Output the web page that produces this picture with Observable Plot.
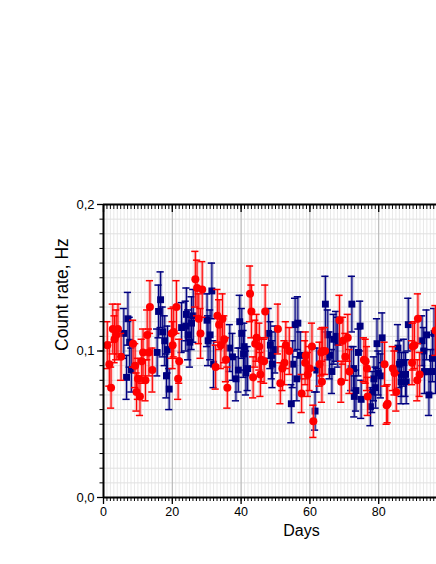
<!DOCTYPE html>
<html><head><meta charset="utf-8">
<script src="https://cdn.jsdelivr.net/npm/d3@7"></script>
<script src="https://cdn.jsdelivr.net/npm/@observablehq/plot@0.6"></script>
<style>html,body{margin:0;padding:0;background:#fff;overflow:hidden}svg{display:block}</style>
</head><body><div id="chart"></div>
<script>
const redDays = [1.1,1.7,2.2,2.7,3.2,3.7,4.2,5.1,8.6,9.2,9.6,10.0,10.6,11.1,11.5,12.2,12.7,13.2,13.5,14.2,
  19.8,20.1,20.4,21.2,21.7,22.0, 26.7,27.2,27.7,28.2,28.7, 32.6,33.1,33.6,34.1,34.6,35.1,35.6,36.0,
  42.6,43.0,43.5,44.1,44.5,45.3,45.6,45.9,46.7,47.0, 50.7,51.4,52.0,52.6,53.0,54.0,
  57.6,58.6,58.8,59.4,59.9,60.6,61.0,62.8,63.3,63.5,63.7,64.4, 68.6,69.1,69.6,70.3,71.0,71.5,
  75.7,76.2,76.6,76.8, 81.7,82.3,82.6,84.1,84.6,85.1, 89.7,89.9,90.4,91.2,91.4,91.9, 96.5];
const redValues = [0.104,0.091,0.075,0.115,0.108,0.111,0.115,0.096,0.105,0.090,0.072,0.081,0.069,0.093,0.099,0.080,0.111,0.099,0.130,0.087,
  0.112,0.104,0.113,0.130,0.081,0.093, 0.149,0.143,0.122,0.112,0.142, 0.089,0.124,0.118,0.104,0.122,0.108,0.094,0.075,
  0.139,0.127,0.082,0.105,0.109,0.103,0.084,0.094,0.093,0.127, 0.115,0.078,0.088,0.092,0.104,0.100,
  0.071,0.092,0.097,0.084,0.088,0.103,0.052,0.091,0.099,0.079,0.100,0.100, 0.121,0.079,0.107,0.096,0.109,0.086,
  0.094,0.093,0.088,0.069, 0.091,0.063,0.064,0.088,0.085,0.072, 0.092,0.103,0.104,0.080,0.122,0.084, 0.114];
const redErrors = [0.016,0.015,0.014,0.017,0.016,0.017,0.017,0.016,0.016,0.015,0.013,0.014,0.013,0.015,0.016,0.014,0.017,0.016,0.018,0.015,
  0.017,0.016,0.017,0.018,0.014,0.015, 0.019,0.019,0.017,0.017,0.019, 0.015,0.018,0.017,0.016,0.017,0.016,0.015,0.014,
  0.019,0.018,0.014,0.016,0.016,0.016,0.015,0.015,0.015,0.018, 0.017,0.014,0.015,0.015,0.016,0.016,
  0.013,0.015,0.016,0.015,0.015,0.016,0.011,0.015,0.016,0.014,0.016,0.016, 0.017,0.014,0.016,0.016,0.016,0.015,
  0.015,0.015,0.015,0.013, 0.015,0.013,0.013,0.015,0.015,0.013, 0.015,0.016,0.016,0.014,0.017,0.015, 0.017];

const navyDays = [5.9,6.7,7.1,7.6,8.1, 15.6,16.0,16.6,17.2,17.8,18.3,18.6,19.1, 22.7,23.9,24.1,24.6,25.1,25.6,26.1,
  30.1,30.4,31.0,31.5,32.0, 36.7,37.5,38.5,39.2,39.6,40.2,40.7,40.9,41.4,41.9, 48.0,48.5,48.9,49.1,49.9,
  54.6,55.0,55.7,56.2,56.5,57.2, 61.5,62.0, 64.5,65.2,65.7,66.4,66.9,67.6,68.1,
  72.0,72.2,72.7,72.9,73.4,74.1,74.6,74.9, 77.6,78.1,78.6,79.1,79.5,79.9,80.6,81.0,
  85.6,86.0,86.5,86.6,87.3,87.8,88.0,88.6, 92.6,93.1,93.3,93.9,94.6,95.1,95.6,96.1,96.5];
const navyValues = [0.112,0.082,0.122,0.106,0.087, 0.099,0.127,0.135,0.113,0.107,0.083,0.101,0.074, 0.116,0.117,0.125,0.111,0.106,0.119,0.124,
  0.121,0.107,0.111,0.141,0.091, 0.102,0.096,0.081,0.087,0.120,0.112,0.098,0.103,0.085,0.088, 0.112,0.104,0.097,0.091,0.101,
  0.064,0.091,0.118,0.081,0.119,0.097, 0.059,0.087, 0.132,0.111,0.097,0.086,0.108,0.110,0.106,
  0.088,0.132,0.088,0.069,0.073,0.099,0.117,0.067, 0.062,0.072,0.081,0.075,0.105,0.085,0.083,0.109,
  0.102,0.091,0.079,0.084,0.092,0.084,0.079,0.118, 0.107,0.100,0.086,0.111,0.070,0.086,0.095,0.112,0.086];
const navyErrors = [0.017,0.015,0.018,0.017,0.015, 0.016,0.018,0.019,0.017,0.017,0.015,0.016,0.014, 0.017,0.017,0.018,0.017,0.017,0.018,0.018,
  0.018,0.017,0.017,0.019,0.016, 0.016,0.016,0.015,0.015,0.018,0.017,0.016,0.016,0.015,0.015, 0.017,0.016,0.016,0.016,0.016,
  0.013,0.016,0.018,0.015,0.018,0.016, 0.013,0.015, 0.019,0.017,0.016,0.015,0.017,0.017,0.017,
  0.015,0.019,0.015,0.014,0.014,0.016,0.017,0.013, 0.013,0.014,0.015,0.014,0.017,0.015,0.015,0.017,
  0.016,0.016,0.015,0.015,0.016,0.015,0.015,0.018, 0.017,0.016,0.015,0.017,0.014,0.015,0.016,0.017,0.015];

const xMajorTicks = [0, 20, 40, 60, 80];
const yMajorTicks = [0, 0.1, 0.2];
const yTickLabels = ["0,0", "0,1", "0,2"];
const xLabel = "Days";
const yLabel = "Count rate, Hz";

const xMinor = d3.range(0, 97, 1);
const yMinor = d3.range(0, 21).map(k => k / 100);

const red = redDays.map((d, i) => ({day: d, v: redValues[i], e: redErrors[i]}));
const navy = navyDays.map((d, i) => ({day: d, v: navyValues[i], e: navyErrors[i]}));

function series(data, color, halo, symbol, r) {
  const lo = d => d.v - d.e, hi = d => d.v + d.e;
  return [
    Plot.ruleX(data, {x: "day", y1: lo, y2: hi, stroke: halo, strokeWidth: 3.2, strokeOpacity: 0.45}),
    Plot.ruleX(data, {x: "day", y1: lo, y2: hi, stroke: color, strokeWidth: 1.1}),
    Plot.ruleY(data, {y: hi, x1: d => d.day - 1.05, x2: d => d.day + 1.05, stroke: color, strokeWidth: 1.5}),
    Plot.ruleY(data, {y: lo, x1: d => d.day - 1.05, x2: d => d.day + 1.05, stroke: color, strokeWidth: 1.5}),
    Plot.dot(data, {x: "day", y: "v", symbol, r, fill: color, stroke: "none"})
  ];
}

const chart = Plot.plot({
  width: 436, height: 564,
  marginLeft: 103, marginRight: 0, marginTop: 204, marginBottom: 67,
  x: {domain: [0, 96.8]},
  y: {domain: [0, 0.2]},
  style: {fontFamily: "Arial, 'Liberation Sans', sans-serif", fontSize: "12.5px", color: "#000", background: "#fff"},
  marks: [
    Plot.gridX(xMinor, {stroke: "#e8e8e8", strokeOpacity: 1}),
    Plot.gridY(yMinor, {stroke: "#e0e0e0", strokeOpacity: 1}),
    Plot.gridY([0.1], {stroke: "#cccccc", strokeOpacity: 1}),
    Plot.gridX(xMajorTicks, {stroke: "#b4b4b4", strokeOpacity: 1}),
    ...series(navy, "#000080", "#5a5aa8", "square", 3.9),
    ...series(red, "#ff0000", "#ff6a6a", "circle", 4),
    Plot.axisX({ticks: xMinor, anchor: "bottom", tickSize: 4, tickFormat: () => "", label: null}),
    Plot.axisX({ticks: xMajorTicks, anchor: "bottom", tickSize: 7, tickPadding: 3, tickFormat: d => String(d), label: null, strokeWidth: 1.3}),
    Plot.axisX({ticks: xMinor, anchor: "top", tickSize: -4, tickFormat: () => "", label: null}),
    Plot.axisX({ticks: xMajorTicks, anchor: "top", tickSize: -7, tickFormat: () => "", label: null, strokeWidth: 1.3}),
    Plot.axisY({ticks: yMinor, anchor: "left", tickSize: 3.5, tickFormat: () => "", label: null}),
    Plot.axisY({ticks: yMajorTicks, anchor: "left", tickSize: 6, tickPadding: 3, fontSize: 13, tickFormat: d => yTickLabels[yMajorTicks.indexOf(d)], label: null, strokeWidth: 1.3}),
    Plot.ruleY([0], {stroke: "#000", strokeWidth: 2}),
    Plot.ruleY([0.2], {stroke: "#000", strokeWidth: 2}),
    Plot.ruleX([0], {stroke: "#000", strokeWidth: 2}),
    Plot.text([yLabel], {text: d => d, frameAnchor: "left", dx: -41, rotate: -90, fontSize: 17.5}),
    Plot.text([xLabel], {text: d => d, frameAnchor: "bottom", dx: 31.5, dy: 38, fontSize: 16})
  ]
});
document.getElementById("chart").appendChild(chart);
</script>
</body></html>
